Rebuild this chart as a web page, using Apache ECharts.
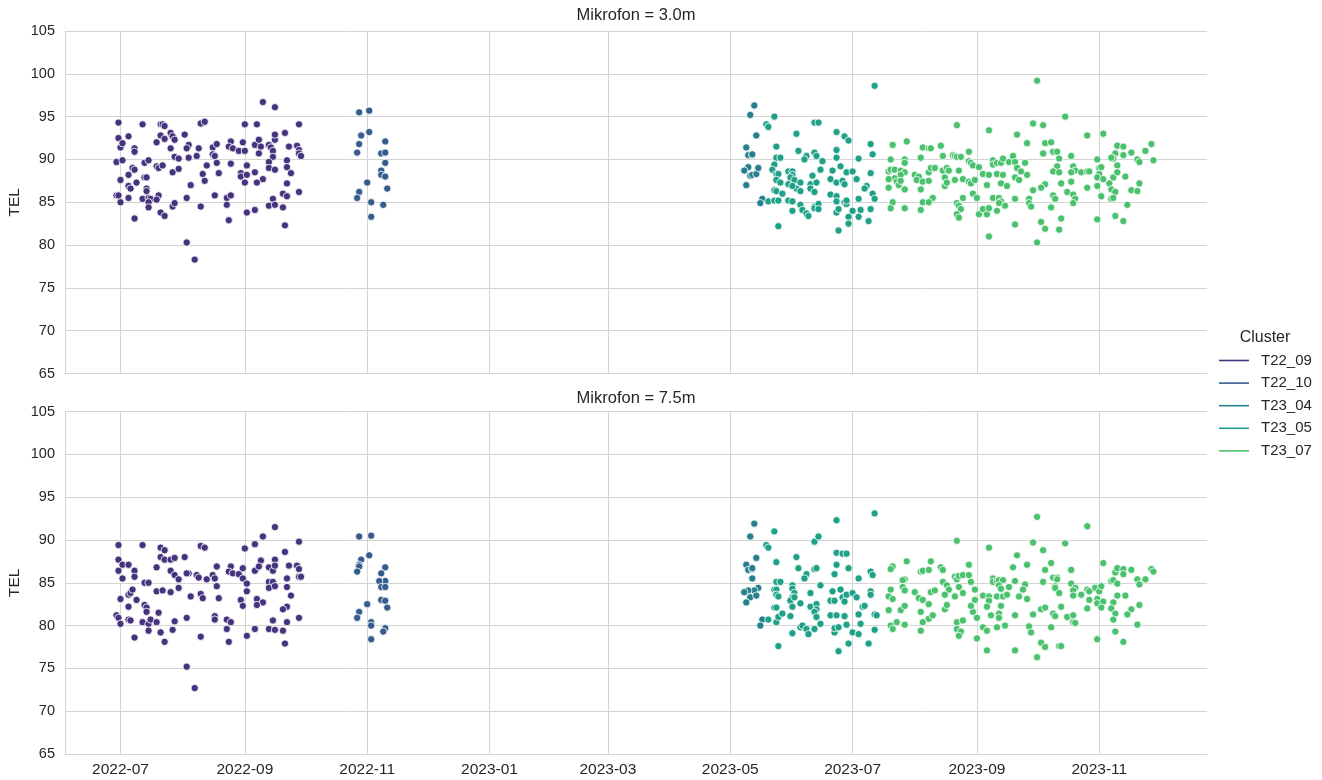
<!DOCTYPE html>
<html>
<head>
<meta charset="utf-8">
<script src="https://cdn.jsdelivr.net/npm/echarts@6/dist/echarts.min.js"></script>
<style>
html,body{margin:0;padding:0;background:#ffffff;}
#chart{width:1322px;height:780px;}
</style>
</head>
<body>
<div id="chart"></div>
<script>
// ---------------- data ----------------
const clusters = ['T22_09', 'T22_10', 'T23_04', 'T23_05', 'T23_07'];
const clusterColors = ['#46337e', '#365c8d', '#277f8e', '#1fa187', '#4ac16d'];
const panelTitles = ['Mikrofon = 3.0m', 'Mikrofon = 7.5m'];
const legendTitle = 'Cluster';
const yAxisName = 'TEL';
const xTickDates = ['2022-07-01', '2022-09-01', '2022-11-01', '2023-01-01', '2023-03-01', '2023-05-01', '2023-07-01', '2023-09-01', '2023-11-01'];
const xRange = ['2022-06-03 08:00', '2023-12-24 17:00'];
const yRange = [65, 105];
const yStep = 5;

// Mikrofon = 3.0m
const top_T22_09 = [
['2022-09-10',96.7],['2022-09-16',96.1],['2022-06-30',94.3],['2022-07-12',94.1],['2022-07-21',94.1],['2022-07-22',94.1],['2022-07-23',93.9],['2022-08-10',94.2],['2022-08-12',94.4],['2022-09-01',94.1],['2022-09-07',94.1],['2022-09-28',94.1],
['2022-06-30',92.5],['2022-07-05',92.7],['2022-07-21',92.8],['2022-07-23',92.4],['2022-07-26',93.1],['2022-07-27',92.7],['2022-07-28',92.3],['2022-08-02',92.9],['2022-08-04',91.7],['2022-08-03',91.3],['2022-08-09',91.3],['2022-08-16',91.4],['2022-08-18',91.8],['2022-08-25',92.1],['2022-08-24',91.5],['2022-08-26',91.3],['2022-08-29',91.0],['2022-08-31',92.0],['2022-09-01',91.0],['2022-09-06',91.7],['2022-09-08',92.3],['2022-09-09',91.5],['2022-09-08',90.7],['2022-09-13',91.7],['2022-09-14',91.4],['2022-09-15',91.0],['2022-09-16',92.3],['2022-09-16',92.9],['2022-09-21',93.1],['2022-09-23',91.5],['2022-09-27',91.6],['2022-09-28',91.1],['2022-09-28',90.7],['2022-09-29',90.4],
['2022-07-01',91.4],['2022-07-02',91.9],['2022-07-08',91.3],['2022-07-08',90.9],['2022-06-29',89.7],['2022-07-02',89.9],['2022-07-13',89.6],['2022-07-15',89.9],['2022-07-19',92.0],['2022-07-26',91.3],['2022-07-28',90.3],['2022-07-30',90.1],['2022-08-04',90.2],['2022-08-08',90.4],['2022-08-16',90.6],['2022-08-17',90.4],['2022-08-13',89.3],['2022-08-18',89.6],['2022-08-25',89.5],['2022-09-02',89.3],['2022-09-15',90.3],['2022-09-13',89.7],['2022-09-22',89.9],
['2022-07-07',89.0],['2022-07-08',88.8],['2022-07-05',88.2],['2022-07-19',89.2],['2022-07-20',89.0],['2022-07-22',89.3],['2022-07-27',88.5],['2022-07-30',88.9],['2022-08-11',88.3],['2022-08-12',87.5],['2022-08-19',88.4],['2022-08-30',88.4],['2022-08-30',88.0],['2022-09-02',88.2],['2022-09-06',88.5],['2022-09-13',89.0],['2022-09-16',88.8],['2022-09-22',89.1],['2022-09-24',88.4],['2022-09-10',87.7],
['2022-07-01',87.6],['2022-07-09',87.3],['2022-07-13',87.9],['2022-07-14',87.9],['2022-07-05',86.9],['2022-07-06',86.6],['2022-07-14',86.6],['2022-07-14',86.3],['2022-08-05',87.0],['2022-09-01',87.3],['2022-09-07',87.3],['2022-09-22',87.2],
['2022-06-29',85.8],['2022-06-30',85.8],['2022-07-05',85.5],['2022-07-12',85.4],['2022-07-15',85.5],['2022-07-16',85.4],['2022-07-15',85.0],['2022-07-20',85.8],['2022-07-19',85.3],['2022-08-03',85.5],['2022-08-17',85.8],['2022-08-23',85.5],['2022-08-25',85.8],['2022-09-15',85.4],['2022-09-20',86.0],['2022-09-22',85.7],['2022-09-28',86.2],
['2022-07-01',85.0],['2022-07-15',84.4],['2022-07-21',83.8],['2022-07-23',83.4],['2022-07-27',84.5],['2022-07-28',84.9],['2022-08-10',84.5],['2022-08-23',84.7],['2022-08-24',82.9],['2022-09-02',83.8],['2022-09-06',84.1],['2022-09-13',84.6],['2022-09-16',84.7],['2022-09-20',84.4],['2022-09-21',82.3],['2022-07-08',83.1],['2022-08-03',80.3],['2022-08-07',78.3]
];
const top_T22_10 = [
['2022-10-28',95.5],['2022-11-02',95.7],['2022-10-29',92.8],['2022-11-02',93.2],['2022-10-28',91.8],['2022-11-10',92.1],['2022-10-27',90.8],['2022-11-08',90.7],['2022-11-10',90.8],['2022-11-10',89.6],['2022-11-08',88.7],['2022-11-08',88.2],['2022-11-10',88.0],['2022-11-01',87.3],['2022-11-11',86.6],['2022-10-28',86.2],['2022-10-27',85.5],['2022-11-03',85.0],['2022-11-09',84.7],['2022-11-03',83.3]
];
const top_T23_04 = [
['2023-05-13',96.3],['2023-05-11',95.2],['2023-05-14',92.8],['2023-05-09',91.4],['2023-05-10',90.5],['2023-05-12',90.5],['2023-05-12',90.6],['2023-05-10',89.1],['2023-05-08',88.7],['2023-05-11',88.1],['2023-05-12',88.2],['2023-05-14',88.3],['2023-05-15',89.0],['2023-05-09',87.0],['2023-05-17',85.4],['2023-05-16',84.9]
];
const top_T23_05 = [
['2023-05-23',95.0],['2023-05-19',94.1],['2023-05-20',93.8],['2023-06-12',94.3],['2023-06-14',94.3],['2023-06-03',93.0],['2023-06-23',93.2],['2023-06-27',92.7],['2023-06-29',92.2],['2023-07-10',91.8],['2023-07-11',90.6],['2023-07-12',98.6],
['2023-05-24',91.5],['2023-06-04',91.0],['2023-06-08',90.4],['2023-06-07',90.0],['2023-06-12',90.8],['2023-06-13',90.4],['2023-06-16',89.8],['2023-06-23',90.2],['2023-06-23',91.1],['2023-07-04',90.1],['2023-05-24',90.2],['2023-05-26',90.2],
['2023-05-23',89.4],['2023-05-22',88.8],['2023-05-24',88.3],['2023-05-25',88.3],['2023-05-30',88.6],['2023-06-01',88.6],['2023-06-01',88.2],['2023-05-31',87.9],['2023-05-24',87.6],['2023-05-26',87.3],['2023-05-30',87.1],['2023-06-02',87.6],['2023-06-05',87.3],['2023-06-11',88.1],['2023-06-15',88.8],['2023-06-10',87.1],['2023-06-13',87.3],['2023-06-21',88.7],['2023-06-20',87.7],['2023-06-23',87.3],['2023-06-25',89.2],['2023-06-28',88.5],['2023-07-01',88.6],['2023-06-26',87.5],['2023-06-27',87.1],['2023-07-03',87.7],['2023-07-10',88.4],['2023-07-08',86.9],['2023-07-07',86.6],['2023-07-11',86.0],
['2023-06-03',86.6],['2023-06-01',86.9],['2023-06-10',86.6],['2023-06-12',86.2],['2023-06-05',86.3],['2023-05-23',86.4],['2023-05-24',86.3],['2023-05-27',86.0],['2023-05-20',85.1],['2023-05-23',85.2],['2023-05-25',85.2],['2023-05-30',85.2],['2023-06-01',85.1],['2023-06-01',84.0],['2023-06-05',84.7],['2023-06-06',84.1],['2023-06-08',83.7],['2023-06-09',83.4],['2023-06-12',84.5],['2023-06-12',84.3],['2023-06-14',84.8],['2023-06-14',84.2],['2023-06-20',85.9],['2023-06-23',85.7],['2023-06-23',85.1],['2023-06-23',83.8],['2023-06-24',84.2],['2023-06-27',85.0],['2023-06-28',84.8],['2023-06-28',85.2],['2023-06-29',83.3],['2023-06-29',82.5],['2023-07-01',84.0],['2023-07-04',85.4],['2023-07-05',84.1],['2023-07-04',83.3],['2023-07-09',82.8],['2023-05-25',82.2],['2023-06-24',81.7],['2023-07-12',85.4],['2023-07-10',84.2]
];
const top_T23_07 = [
['2023-08-22',94.0],['2023-09-07',93.4],['2023-09-21',92.9],['2023-07-21',91.7],['2023-07-28',92.1],['2023-08-05',91.4],['2023-08-08',91.3],['2023-08-09',91.3],['2023-08-14',91.6],['2023-08-04',90.2],['2023-08-15',90.4],['2023-08-20',90.5],['2023-08-21',90.4],['2023-08-22',90.3],['2023-08-24',90.3],['2023-08-28',90.9],['2023-08-28',89.8],['2023-08-29',89.6],['2023-08-30',89.3],['2023-09-02',89.1],['2023-09-09',89.9],['2023-09-09',89.4],['2023-09-11',89.6],['2023-09-13',89.6],['2023-09-14',90.1],['2023-09-17',89.7],['2023-09-19',90.4],['2023-09-20',89.7],['2023-09-21',89.0],
['2023-07-20',90.0],['2023-07-27',90.0],['2023-07-27',89.6],['2023-07-19',88.6],['2023-07-20',88.8],['2023-07-22',88.8],['2023-07-25',88.7],['2023-07-27',88.5],['2023-07-25',88.2],['2023-07-22',87.8],['2023-07-19',87.7],['2023-07-23',87.4],['2023-07-24',87.0],['2023-07-25',87.5],['2023-07-27',86.5],['2023-07-19',86.7],['2023-08-01',88.2],['2023-08-03',88.0],['2023-08-02',87.6],['2023-08-05',87.4],['2023-08-08',87.5],['2023-08-04',86.5],['2023-08-08',88.5],['2023-08-09',89.0],['2023-08-11',89.0],['2023-08-15',88.7],['2023-08-17',89.0],['2023-08-18',88.7],['2023-08-16',87.9],['2023-08-16',86.9],['2023-08-17',87.3],['2023-08-21',87.6],['2023-08-23',88.7],['2023-08-25',87.7],['2023-08-28',87.4],['2023-08-29',87.2],['2023-08-31',87.6],['2023-09-04',88.3],['2023-09-07',88.2],['2023-09-06',87.0],['2023-09-11',88.3],['2023-09-14',88.2],['2023-09-13',87.2],['2023-09-16',86.9],['2023-09-20',87.9],['2023-09-22',87.6],
['2023-08-30',86.0],['2023-09-01',85.5],['2023-08-25',85.5],['2023-08-10',85.5],['2023-08-05',85.0],['2023-08-08',85.0],['2023-08-04',84.1],['2023-07-27',84.3],['2023-07-21',85.0],['2023-07-20',84.3],['2023-08-22',84.9],['2023-08-23',84.6],['2023-08-24',84.2],['2023-08-22',83.6],['2023-08-23',83.2],['2023-09-02',83.6],['2023-09-04',84.2],['2023-09-06',83.6],['2023-09-07',84.3],['2023-09-09',85.5],['2023-09-12',85.5],['2023-09-13',85.1],['2023-09-15',84.6],['2023-09-12',84.9],['2023-09-11',84.0],['2023-09-20',85.4],['2023-09-20',82.4],['2023-09-07',81.0],
['2023-10-01',99.2],['2023-10-15',95.0],['2023-09-29',94.2],['2023-10-04',94.0],['2023-10-26',92.8],['2023-11-03',93.0],['2023-09-26',91.9],['2023-10-05',91.9],['2023-10-08',92.0],['2023-10-04',90.7],['2023-10-09',90.9],['2023-10-11',90.9],['2023-10-18',90.4],['2023-10-12',90.1],['2023-09-25',89.6],['2023-10-11',89.2],['2023-10-19',89.2],['2023-10-20',88.7],['2023-10-18',88.5],['2023-10-23',88.5],['2023-10-09',88.6],['2023-10-12',88.5],['2023-09-26',88.2],['2023-09-23',88.6],['2023-10-18',87.4],['2023-10-13',87.2],['2023-10-05',87.1],['2023-10-03',86.7],['2023-09-29',86.4],['2023-10-16',86.2],['2023-10-19',85.9],['2023-10-09',85.8],['2023-10-10',85.4],['2023-10-20',85.4],['2023-09-27',85.4],['2023-09-27',84.9],['2023-09-28',84.5],['2023-10-08',84.4],['2023-10-19',84.9],['2023-10-03',82.7],['2023-10-05',81.9],['2023-10-12',81.8],['2023-10-13',83.1],['2023-10-01',80.3],
['2023-10-31',90.0],['2023-11-01',89.0],['2023-11-02',89.1],['2023-10-26',88.6],['2023-10-27',88.6],['2023-11-01',88.3],['2023-10-31',87.9],['2023-11-03',87.7],['2023-10-26',86.7],['2023-10-31',86.9],['2023-11-02',85.7],['2023-10-31',83.0],['2023-11-08',87.9],['2023-11-06',87.2],['2023-11-07',86.5],['2023-11-09',86.2],['2023-11-07',85.4],['2023-11-08',85.5],['2023-11-09',83.4],['2023-11-13',82.8],['2023-11-15',84.7],['2023-11-10',91.6],['2023-11-13',91.5],['2023-11-09',90.7],['2023-11-13',90.5],['2023-11-08',90.1],['2023-11-07',90.2],['2023-11-10',89.3],['2023-11-10',88.5],['2023-11-14',88.0],['2023-11-17',90.8],['2023-11-20',90.0],['2023-11-21',89.7],['2023-11-27',91.8],['2023-11-24',91.0],['2023-11-28',89.9],['2023-11-17',86.4],['2023-11-20',86.3],['2023-11-21',87.2]
];

// Mikrofon = 7.5m
const bottom_T22_09 = [
['2022-09-16',91.5],['2022-09-10',90.4],['2022-06-30',89.4],['2022-07-12',89.4],['2022-07-21',89.1],['2022-07-23',88.8],['2022-08-10',89.3],['2022-08-12',89.1],['2022-09-01',89.0],['2022-09-06',89.5],['2022-09-28',89.8],['2022-08-02',88.0],['2022-07-21',88.0],['2022-07-23',87.7],['2022-07-26',87.7],['2022-07-28',87.9],['2022-06-30',87.7],['2022-09-21',88.6],['2022-09-09',87.6],['2022-09-16',87.7],['2022-07-02',87.1],['2022-07-05',87.1],['2022-06-30',86.4],['2022-07-08',86.4],['2022-07-08',85.7],['2022-07-02',85.5],['2022-07-19',86.8],['2022-07-26',86.4],['2022-07-28',85.9],['2022-07-30',85.4],['2022-07-30',84.4],['2022-08-04',86.1],['2022-08-03',86.1],['2022-08-08',85.9],['2022-08-09',85.6],['2022-08-13',85.4],['2022-08-16',85.9],['2022-08-17',85.5],['2022-08-18',86.9],['2022-08-18',84.6],['2022-08-25',86.9],['2022-08-24',86.3],['2022-08-26',86.1],['2022-08-29',86.0],['2022-08-31',86.7],['2022-08-31',85.5],['2022-09-02',84.9],['2022-09-06',86.4],['2022-09-08',86.9],['2022-09-13',86.8],['2022-09-15',86.4],['2022-09-16',87.0],['2022-09-23',87.0],['2022-09-27',87.0],['2022-09-28',86.6],['2022-09-28',85.7],['2022-09-29',85.7],['2022-09-22',85.5],['2022-09-13',85.1],['2022-09-15',85.1],['2022-09-13',84.4],['2022-09-16',84.6],['2022-09-22',84.5],
['2022-07-13',85.0],['2022-07-15',85.0],['2022-07-01',83.1],['2022-07-05',83.6],['2022-07-06',83.8],['2022-07-07',84.2],['2022-07-09',83.0],['2022-07-19',84.0],['2022-07-22',84.1],['2022-07-26',83.9],['2022-08-05',83.4],['2022-08-10',83.7],['2022-08-11',83.2],['2022-08-19',83.2],['2022-08-30',83.0],['2022-08-31',82.3],['2022-09-02',84.0],['2022-09-07',83.1],['2022-09-10',82.7],['2022-09-07',82.4],['2022-09-24',83.5],['2022-09-22',82.2],['2022-07-05',82.2],['2022-07-13',82.4],['2022-07-14',82.1],['2022-07-14',81.6],['2022-07-20',81.5],['2022-06-29',81.2],['2022-06-30',80.9],['2022-07-05',80.7],['2022-07-06',80.6],['2022-07-12',80.4],['2022-07-15',80.2],['2022-07-16',80.7],['2022-07-15',79.4],['2022-07-19',80.4],['2022-07-01',80.2],['2022-08-03',80.9],['2022-07-28',80.5],['2022-08-17',81.1],['2022-08-17',80.7],['2022-08-23',80.7],['2022-08-25',80.4],['2022-09-15',80.6],['2022-09-20',81.9],['2022-09-22',80.4],['2022-09-28',80.9],
['2022-07-08',78.6],['2022-07-21',79.2],['2022-07-23',78.1],['2022-07-27',79.5],['2022-08-10',78.7],['2022-08-23',79.6],['2022-08-24',78.1],['2022-09-02',78.8],['2022-09-06',79.6],['2022-09-13',79.6],['2022-09-16',79.5],['2022-09-20',79.4],['2022-09-21',77.9],['2022-08-03',75.2],['2022-08-07',72.7]
];
const bottom_T22_10 = [
['2022-10-28',90.4],['2022-11-03',90.5],['2022-11-02',88.2],['2022-10-29',87.7],['2022-10-28',87.1],['2022-10-28',86.9],['2022-10-27',86.3],['2022-11-10',86.8],['2022-11-08',86.1],['2022-11-10',85.2],['2022-11-07',85.2],['2022-11-08',84.5],['2022-11-10',84.5],['2022-11-08',83.0],['2022-11-10',82.9],['2022-11-11',82.1],['2022-11-01',82.5],['2022-10-28',81.6],['2022-10-27',80.9],['2022-11-03',80.4],['2022-11-03',80.0],['2022-11-10',79.7],['2022-11-09',79.3],['2022-11-03',78.4]
];
const bottom_T23_04 = [
['2023-05-13',91.9],['2023-05-11',90.4],['2023-05-14',87.9],['2023-05-09',87.1],['2023-05-10',86.5],['2023-05-12',86.6],['2023-05-12',86.7],['2023-05-12',85.5],['2023-05-15',84.4],['2023-05-13',84.1],['2023-05-10',84.1],['2023-05-08',83.9],['2023-05-11',83.3],['2023-05-14',83.5],['2023-05-09',82.7],['2023-05-17',80.7],['2023-05-16',80.0]
];
const bottom_T23_05 = [
['2023-05-23',91.0],['2023-05-19',89.4],['2023-05-20',89.1],['2023-05-24',87.4],['2023-06-03',88.0],['2023-06-04',86.7],['2023-06-08',86.0],['2023-06-07',85.5],['2023-06-12',86.6],['2023-06-13',86.7],['2023-06-12',89.8],['2023-06-14',90.4],['2023-06-23',92.3],['2023-06-23',88.5],['2023-06-26',88.4],['2023-06-28',88.4],['2023-06-23',87.1],['2023-06-29',86.7],['2023-06-22',86.0],['2023-07-04',85.5],['2023-07-10',86.3],['2023-07-11',85.9],['2023-07-12',93.1],
['2023-05-24',85.1],['2023-05-26',85.1],['2023-05-23',84.2],['2023-05-24',84.2],['2023-05-24',83.6],['2023-05-25',83.4],['2023-06-01',84.7],['2023-06-01',84.3],['2023-06-02',83.8],['2023-06-01',83.3],['2023-05-31',82.9],['2023-06-02',83.3],['2023-06-05',82.6],['2023-06-01',82.2],['2023-06-10',83.8],['2023-06-10',82.2],['2023-06-13',82.5],['2023-06-13',81.9],['2023-06-15',84.7],['2023-06-21',84.0],['2023-06-20',82.9],['2023-06-22',82.9],['2023-06-25',84.2],['2023-06-26',83.3],['2023-06-28',83.6],['2023-06-27',82.8],['2023-07-01',83.8],['2023-07-03',83.3],['2023-07-10',84.0],['2023-07-10',83.6],['2023-07-06',82.2],['2023-07-07',82.3],
['2023-05-23',82.1],['2023-05-24',82.1],['2023-05-24',80.4],['2023-05-25',81.0],['2023-05-27',81.4],['2023-05-31',81.1],['2023-06-12',81.6],['2023-06-13',81.0],['2023-06-15',80.2],['2023-06-12',79.6],['2023-06-20',81.2],['2023-06-23',81.2],['2023-06-27',81.1],['2023-06-22',79.2],['2023-06-22',79.7],['2023-06-24',79.8],['2023-06-28',80.1],['2023-07-01',79.2],['2023-07-04',81.3],['2023-07-05',80.2],['2023-07-04',79.0],['2023-07-12',81.3],['2023-07-13',81.2],['2023-07-12',79.5],['2023-07-09',77.9],['2023-06-29',77.9],['2023-06-24',77.0],['2023-05-25',77.6],['2023-06-01',79.1],['2023-06-05',79.8],['2023-06-06',80.0],['2023-06-08',79.6],['2023-06-09',79.0],['2023-05-20',80.7]
];
const bottom_T23_07 = [
['2023-08-22',89.9],['2023-09-07',89.1],['2023-09-21',88.2],['2023-07-28',87.5],['2023-08-09',87.5],['2023-07-21',86.9],['2023-07-20',86.6],['2023-08-04',86.3],['2023-08-05',86.4],['2023-08-08',86.5],['2023-08-14',86.8],['2023-08-15',86.5],['2023-08-28',87.1],['2023-09-19',86.8],['2023-07-27',85.4],['2023-07-26',85.3],['2023-07-26',84.5],['2023-07-27',84.1],['2023-07-20',84.2],['2023-07-19',83.4],['2023-07-21',83.1],['2023-08-01',83.9],['2023-08-03',83.2],['2023-08-05',83.0],['2023-08-08',82.5],['2023-08-04',81.6],['2023-08-09',83.9],['2023-08-11',84.1],['2023-08-15',85.1],['2023-08-17',84.7],['2023-08-18',84.2],['2023-08-16',83.6],['2023-08-16',81.9],['2023-08-21',85.7],['2023-08-22',85.4],['2023-08-23',85.8],['2023-08-25',85.9],['2023-08-28',85.9],['2023-08-23',84.5],['2023-08-25',83.8],['2023-08-21',83.4],['2023-08-17',82.4],['2023-08-29',85.1],['2023-08-31',84.2],['2023-08-31',83.0],['2023-08-30',81.6],['2023-09-01',80.9],['2023-08-29',82.3],['2023-09-04',83.5],['2023-09-07',83.4],['2023-09-07',82.9],['2023-09-06',82.2],['2023-09-09',85.5],['2023-09-09',85.1],['2023-09-11',85.2],['2023-09-12',85.3],['2023-09-14',85.3],['2023-09-12',84.7],['2023-09-13',84.3],['2023-09-11',83.4],['2023-09-14',83.4],['2023-09-16',83.6],['2023-09-13',82.3],['2023-09-12',81.4],['2023-09-08',81.2],['2023-09-12',80.9],['2023-09-17',84.5],['2023-09-20',85.2],['2023-09-22',83.4],['2023-09-20',81.2],
['2023-07-19',81.8],['2023-07-25',81.8],['2023-07-27',82.3],['2023-07-23',80.4],['2023-07-20',80.0],['2023-07-21',79.6],['2023-07-27',80.1],['2023-08-04',79.4],['2023-08-05',80.4],['2023-08-08',80.8],['2023-08-10',81.2],['2023-08-22',80.4],['2023-08-25',80.6],['2023-08-22',79.6],['2023-08-24',79.3],['2023-08-23',78.8],['2023-09-04',79.8],['2023-09-06',79.4],['2023-09-11',79.8],['2023-09-15',80.0],['2023-09-01',78.5],['2023-09-06',77.1],['2023-09-20',77.1],
['2023-10-01',92.7],['2023-10-26',91.6],['2023-09-29',89.7],['2023-10-15',89.6],['2023-10-04',88.8],['2023-09-26',87.1],['2023-10-08',87.3],['2023-11-03',87.3],['2023-10-05',86.5],['2023-10-18',86.5],['2023-10-09',85.6],['2023-10-11',85.6],['2023-10-11',85.4],['2023-10-04',85.1],['2023-10-18',84.9],['2023-09-25',84.8],['2023-10-10',84.6],['2023-10-10',84.4],['2023-10-20',84.4],['2023-10-19',84.1],['2023-10-19',83.5],['2023-10-23',83.6],['2023-10-12',83.8],['2023-09-24',84.2],['2023-09-26',83.1],['2023-10-13',82.2],['2023-10-03',81.9],['2023-10-05',82.1],['2023-09-29',81.3],['2023-10-09',81.4],['2023-10-10',81.1],['2023-10-16',81.0],['2023-10-19',81.2],['2023-10-19',80.4],['2023-10-20',80.3],['2023-09-27',79.9],['2023-09-28',79.2],['2023-10-08',79.8],['2023-10-03',78.0],['2023-10-05',77.5],['2023-10-12',77.6],['2023-10-13',77.6],['2023-10-01',76.3],
['2023-10-26',84.2],['2023-10-27',84.0],['2023-10-30',84.4],['2023-11-01',84.0],['2023-11-02',84.6],['2023-10-27',83.0],['2023-10-31',83.1],['2023-10-31',82.6],['2023-11-03',82.8],['2023-10-26',82.0],['2023-11-02',82.1],['2023-10-31',78.4],['2023-11-07',85.2],['2023-11-08',85.3],['2023-11-09',86.2],['2023-11-10',86.7],['2023-11-13',86.6],['2023-11-13',86.0],['2023-11-10',84.9],['2023-11-08',82.7],['2023-11-07',82.0],['2023-11-09',81.4],['2023-11-08',80.7],['2023-11-10',83.5],['2023-11-14',83.5],['2023-11-09',79.3],['2023-11-13',78.1],['2023-11-17',86.5],['2023-11-20',85.4],['2023-11-21',84.8],['2023-11-24',85.4],['2023-11-27',86.6],['2023-11-28',86.3],['2023-11-17',81.9],['2023-11-15',81.3],['2023-11-21',82.4],['2023-11-20',80.1]
];

const topPanel = [top_T22_09, top_T22_10, top_T23_04, top_T23_05, top_T23_07];
const bottomPanel = [bottom_T22_09, bottom_T22_10, bottom_T23_04, bottom_T23_05, bottom_T23_07];

// ---------------- helpers ----------------
function toTs(s) {
  const parts = s.split(' ');
  const d = parts[0].split('-').map(Number);
  let h = 0, mi = 0;
  if (parts[1]) { const t = parts[1].split(':').map(Number); h = t[0]; mi = t[1]; }
  return new Date(d[0], d[1] - 1, d[2], h, mi).getTime();
}
function fmtMonth(v) {
  const d = new Date(v);
  return d.getFullYear() + '-' + String(d.getMonth() + 1).padStart(2, '0');
}

const FONT = '"Liberation Sans", Arial, Helvetica, sans-serif';
const TEXT = '#262626';
const GRID = '#d4d4d4';

const tickTs = xTickDates.map(toTs);
const plotLeft = 65, plotRight = 1207;
const panelTops = [31, 411.5];
const panelHeight = 342.5;

function makeX(gi, showLabels) {
  return {
    type: 'value', gridIndex: gi,
    min: toTs(xRange[0]), max: toTs(xRange[1]),
    axisLine: { show: true, onZero: false, lineStyle: { color: GRID, width: 1 } },
    axisTick: { show: false, customValues: tickTs },
    axisLabel: {
      show: showLabels, customValues: tickTs, formatter: fmtMonth,
      color: TEXT, fontSize: 15.5, fontFamily: FONT, margin: 8, hideOverlap: false
    },
    splitLine: { show: true, lineStyle: { color: GRID, width: 1 } }
  };
}
function makeY(gi) {
  return {
    type: 'value', gridIndex: gi, min: yRange[0], max: yRange[1], interval: yStep,
    name: yAxisName, nameLocation: 'middle', nameGap: 42, nameRotate: 90, nameMoveOverlap: false,
    nameTextStyle: { color: TEXT, fontSize: 15.5, fontFamily: FONT },
    axisLine: { show: true, lineStyle: { color: GRID, width: 1 } },
    axisTick: { show: false },
    axisLabel: { color: TEXT, fontSize: 14.5, fontFamily: FONT, margin: 10 },
    splitLine: { show: true, lineStyle: { color: GRID, width: 1 } }
  };
}

const series = [];
[topPanel, bottomPanel].forEach((panel, gi) => {
  panel.forEach((rows, ci) => {
    series.push({
      name: clusters[ci], type: 'scatter', xAxisIndex: gi, yAxisIndex: gi,
      symbol: 'circle', symbolSize: 7.3,
      itemStyle: { color: clusterColors[ci], borderColor: '#ffffff', borderWidth: 0.8, opacity: 1 },
      emphasis: { disabled: true },
      data: rows.map(r => [toTs(r[0]), r[1]])
    });
  });
});

const plotCenter = (plotLeft + plotRight) / 2;
const option = {
  backgroundColor: '#ffffff',
  animation: false,
  color: clusterColors,
  grid: panelTops.map(t => ({
    left: plotLeft, width: plotRight - plotLeft, top: t, height: panelHeight,
    containLabel: false, outerBoundsMode: 'none'
  })),
  xAxis: [makeX(0, false), makeX(1, true)],
  yAxis: [makeY(0), makeY(1)],
  legend: {
    orient: 'vertical', left: 1214, top: 348,
    data: clusters, icon: 'rect', itemWidth: 30, itemHeight: 1.6, itemGap: 7.6,
    itemStyle: { borderWidth: 0 },
    selectedMode: false,
    textStyle: { color: TEXT, fontSize: 15, fontFamily: FONT, padding: [0, 0, 0, 7] }
  },
  graphic: [
    { type: 'text', x: plotCenter, y: 15, silent: true,
      style: { text: panelTitles[0], align: 'center', verticalAlign: 'middle', fontSize: 16.5, fontFamily: FONT, fill: TEXT } },
    { type: 'text', x: plotCenter, y: 398, silent: true,
      style: { text: panelTitles[1], align: 'center', verticalAlign: 'middle', fontSize: 16.5, fontFamily: FONT, fill: TEXT } },
    { type: 'text', x: 1265, y: 338, silent: true,
      style: { text: legendTitle, align: 'center', verticalAlign: 'middle', fontSize: 16, fontFamily: FONT, fill: TEXT } }
  ],
  series: series
};

const chart = echarts.init(document.getElementById('chart'), null, { renderer: 'canvas', width: 1322, height: 780 });
chart.setOption(option);
</script>
</body>
</html>
